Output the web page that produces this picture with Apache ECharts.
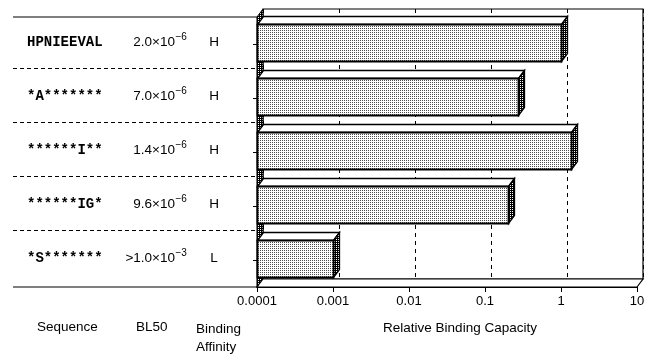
<!DOCTYPE html>
<html>
<head>
<meta charset="utf-8">
<script src="https://cdn.jsdelivr.net/npm/echarts@6/dist/echarts.min.js"></script>
<style>
  html, body { margin: 0; padding: 0; background: #fff; }
  #chart { width: 650px; height: 354px; }
</style>
</head>
<body>
<div id="chart"></div>
<script>
// rows, top to bottom
const sequences = ['HPNIEEVAL', '*A*******', '******I**', '******IG*', '*S*******'];
const bl50Mantissa = ['2.0\u00d710', '7.0\u00d710', '1.4\u00d710', '9.6\u00d710', '>1.0\u00d710'];
const bl50Exponent = ['\u22126', '\u22126', '\u22126', '\u22126', '\u22123'];
const affinity = ['H', 'H', 'H', 'H', 'L'];
const capacity = [1.0, 0.27, 1.35, 0.2, 0.001];
const tickLabels = ['0.0001', '0.001', '0.01', '0.1', '1', '10'];

const X_MIN = 0.0001, X_MAX = 10;
const DX = 6, DY = 8; // depth of the fake 3d box

// small stipple fills
function stipple(ink, cells) {
  const c = document.createElement('canvas');
  c.width = 2; c.height = 2;
  const ctx = c.getContext('2d');
  ctx.fillStyle = '#fff';
  ctx.fillRect(0, 0, 2, 2);
  ctx.fillStyle = ink;
  cells.forEach(p => ctx.fillRect(p[0], p[1], 1, 1));
  return { image: c, repeat: 'repeat' };
}
const lightFill = stipple('#4a4a4a', [[0, 0]]);
const darkFill = stipple('#000', [[0, 0], [1, 1], [1, 0]]);

const chart = echarts.init(document.getElementById('chart'), null, { renderer: 'canvas' });

const font = "'Liberation Sans', Arial, sans-serif";

// walls, floor, the lines and the BL50 / affinity columns of the left table
function renderFrame(params, api) {
  const cs = params.coordSys;
  const x0 = cs.x, y0 = cs.y, x1 = cs.x + cs.width, y1 = cs.y + cs.height;
  const band = api.size([0, 1])[1];
  const children = [];
  // left wall
  children.push({
    type: 'polygon',
    shape: { points: [[x0, y0], [x0 + DX, y0 - DY], [x0 + DX, y1 - DY], [x0, y1]] },
    style: { fill: darkFill, stroke: '#000', lineWidth: 1 }
  });
  // floor
  children.push({
    type: 'polygon',
    shape: { points: [[x0, y1], [x1, y1], [x1 + DX, y1 - DY], [x0 + DX, y1 - DY]] },
    style: { fill: '#fff', stroke: '#000', lineWidth: 1.2 }
  });
  // table lines
  const left = 13;
  children.push({ type: 'line', shape: { x1: left, y1: y0, x2: x0, y2: y0 }, style: { stroke: '#000', lineWidth: 1.2 } });
  children.push({ type: 'line', shape: { x1: left, y1: y1, x2: x0, y2: y1 }, style: { stroke: '#000', lineWidth: 1.2 } });
  for (let i = 1; i < sequences.length; i++) {
    const y = Math.round(y0 + band * i) - 2.5;
    children.push({
      type: 'line',
      shape: { x1: left, y1: y, x2: x0, y2: y },
      style: { stroke: '#000', lineWidth: 1, lineDash: [4, 3] }
    });
  }
  // BL50 and binding affinity columns
  for (let i = 0; i < sequences.length; i++) {
    const yc = api.coord([X_MIN, i])[1] - 2;
    children.push({
      type: 'text', x: 175, y: yc,
      style: { text: bl50Mantissa[i], font: '13.5px ' + font, fill: '#000', align: 'right', verticalAlign: 'middle' }
    });
    children.push({
      type: 'text', x: 175.5, y: yc - 5,
      style: { text: bl50Exponent[i], font: '10px ' + font, fill: '#000', align: 'left', verticalAlign: 'middle' }
    });
    children.push({
      type: 'text', x: 214, y: yc,
      style: { text: affinity[i], font: '13.5px ' + font, fill: '#000', align: 'center', verticalAlign: 'middle' }
    });
  }
  return { type: 'group', children: children };
}

function renderBar(params, api) {
  const idx = api.value(1);
  const start = api.coord([X_MIN, idx]);
  const end = api.coord([api.value(0), idx]);
  const band = api.size([0, 1])[1];
  const h = Math.round(band * 0.69);
  const xa = Math.round(start[0]) + 0.5;
  const xb = Math.round(end[0]) + 0.5;
  const ya = Math.round(start[1] - band / 2 + DY - 1) + 0.5;
  const yb = ya + h;
  return {
    type: 'group',
    children: [
      {
        type: 'polygon',
        shape: { points: [[xa, ya], [xb, ya], [xb + DX, ya - DY], [xa + DX, ya - DY]] },
        style: { fill: '#fff', stroke: '#000', lineWidth: 1.3 }
      },
      {
        type: 'polygon',
        shape: { points: [[xb, ya], [xb + DX, ya - DY], [xb + DX, yb - DY], [xb, yb]] },
        style: { fill: darkFill, stroke: '#000', lineWidth: 1.3 }
      },
      {
        type: 'rect',
        shape: { x: xa, y: ya, width: xb - xa, height: h },
        style: { fill: lightFill, stroke: '#000', lineWidth: 1.8 }
      }
    ]
  };
}

const option = {
  animation: false,
  backgroundColor: '#fff',
  grid: [
    { left: 257, right: 13, top: 17, bottom: 67 },
    { left: 257 + DX, right: 13 - DX, top: 17 - DY, bottom: 67 + DY,
      show: true, borderColor: '#000', borderWidth: 1.2, backgroundColor: 'transparent', z: 0 }
  ],
  xAxis: [
    {
      gridIndex: 0, type: 'log', logBase: 10, min: X_MIN, max: X_MAX,
      axisLine: { show: true, lineStyle: { color: '#000', width: 1.2 } },
      axisTick: { show: true, length: 5, lineStyle: { color: '#000' } },
      splitLine: { show: false },
      axisLabel: {
        margin: 8, color: '#000', fontFamily: font, fontSize: 13,
        formatter: v => tickLabels[Math.round(Math.log10(v) - Math.log10(X_MIN))]
      },
      name: 'Relative Binding Capacity',
      nameLocation: 'middle', nameGap: 34,
      nameTextStyle: { color: '#000', fontFamily: font, fontSize: 13.5, padding: [0, 0, 0, 26] }
    },
    {
      gridIndex: 1, type: 'log', logBase: 10, min: X_MIN, max: X_MAX,
      axisLine: { show: false }, axisTick: { show: false }, axisLabel: { show: false },
      splitLine: { show: true, lineStyle: { color: '#000', width: 1, type: [4, 4] } }
    }
  ],
  yAxis: [
    {
      gridIndex: 0, type: 'category', inverse: true, data: sequences,
      axisLine: { show: true, lineStyle: { color: '#000', width: 1.2 } },
      axisTick: { show: true, length: 4, alignWithLabel: true, lineStyle: { color: '#000' } },
      axisLabel: {
        align: 'left', margin: 230, padding: [0, 0, 4, 0],
        formatter: v => '{s|' + v + '}',
        rich: {
          s: {
            color: '#000', fontFamily: "'Liberation Mono', 'Courier New', monospace",
            fontWeight: 'bold', fontSize: 14, lineHeight: 18
          }
        }
      }
    },
    {
      gridIndex: 1, type: 'category', inverse: true, data: sequences,
      axisLine: { show: false }, axisTick: { show: false }, axisLabel: { show: false }, splitLine: { show: false }
    }
  ],
  graphic: [
    { type: 'text', left: 37, top: 320, style: { text: 'Sequence', font: '13.5px ' + font, fill: '#000' } },
    { type: 'text', left: 136, top: 320, style: { text: 'BL50', font: '13.5px ' + font, fill: '#000' } },
    { type: 'text', left: 196, top: 320, style: { text: 'Binding\nAffinity', font: '13.5px ' + font, fill: '#000', lineHeight: 18 } }
  ],
  series: [
    {
      type: 'custom', xAxisIndex: 0, yAxisIndex: 0, z: 1,
      renderItem: renderFrame,
      data: [[X_MIN, 0]],
      silent: true
    },
    {
      type: 'custom', xAxisIndex: 0, yAxisIndex: 0, z: 3,
      renderItem: renderBar,
      encode: { x: 0, y: 1 },
      data: capacity.map((v, i) => [v, i])
    }
  ]
};

chart.setOption(option);
</script>
</body>
</html>
